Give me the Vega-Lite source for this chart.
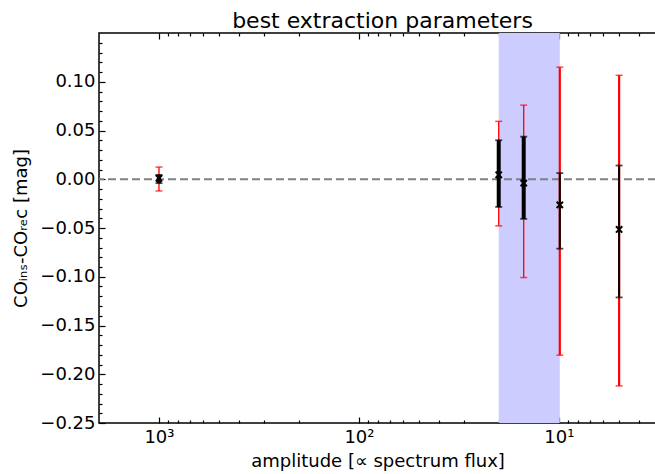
{
  "$schema": "https://vega.github.io/schema/vega-lite/v6.json",
  "width": 557,
  "height": 390,
  "autosize": "none",
  "padding": {"left": 99, "top": 33, "right": 0, "bottom": 51},
  "background": "white",
  "config": {
    "view": {"stroke": "black", "strokeWidth": 1.5},
    "font": "DejaVu Sans",
    "axis": {
      "grid": false,
      "domain": false,
      "tickColor": "black",
      "tickWidth": 1.2,
      "labelColor": "black",
      "labelFont": "DejaVu Sans",
      "labelFontSize": 18,
      "labelFlush": false,
      "labelOverlap": false,
      "titleFont": "DejaVu Sans",
      "titleFontSize": 18,
      "titleFontWeight": "normal",
      "titleColor": "black"
    }
  },
  "title": {
    "text": "best extraction parameters",
    "font": "DejaVu Sans",
    "fontSize": 22,
    "fontWeight": "normal",
    "color": "black",
    "anchor": "middle",
    "offset": -1,
    "dx": 5
  },
  "resolve": {
    "axis": {"x": "independent", "y": "independent"},
    "scale": {"strokeWidth": "independent"}
  },
  "datasets": {
    "band": [{"lo": 20, "hi": 9.9}],
    "zero": [{"level": 0}],
    "runs": [
      {"amp": 1000, "diff": 0.001, "blo": -0.004, "bhi": 0.0045, "rlo": -0.012, "rhi": 0.0125, "run": "a"},
      {"amp": 20, "diff": 0.0046, "blo": -0.0284, "bhi": 0.040, "rlo": -0.0478, "rhi": 0.0594, "run": "a"},
      {"amp": 15, "diff": -0.004, "blo": -0.0406, "bhi": 0.0437, "rlo": -0.1008, "rhi": 0.076, "run": "a"},
      {"amp": 9.9, "diff": -0.0263, "blo": -0.0712, "bhi": 0.0063, "rlo": -0.1804, "rhi": 0.115, "run": "b"},
      {"amp": 5, "diff": -0.0515, "blo": -0.1212, "bhi": 0.0141, "rlo": -0.212, "rhi": 0.1066, "run": "b"}
    ]
  },
  "layer": [
    {
      "data": {"name": "band"},
      "mark": {"type": "rect", "color": "#ccccff"},
      "encoding": {
        "x": {
          "field": "lo",
          "type": "quantitative",
          "scale": {"type": "log", "domain": [3.27, 1995], "reverse": true, "nice": false},
          "axis": {
            "orient": "bottom",
            "title": "amplitude [∝ spectrum flux]",
            "values": [10, 100, 1000],
            "labelExpr": "datum.value == 1000 ? '10³' : datum.value == 100 ? '10²' : '10¹'",
            "offset": -6,
            "tickSize": 6,
            "labelPadding": 5,
            "titlePadding": 6
          }
        },
        "x2": {"field": "hi"}
      }
    },
    {
      "data": {"name": "zero"},
      "mark": {"type": "rule", "color": "#808080", "strokeWidth": 2, "strokeDash": [8, 4]},
      "encoding": {
        "y": {
          "field": "level",
          "type": "quantitative",
          "scale": {"domain": [-0.25, 0.15], "nice": false, "zero": false},
          "axis": {
            "orient": "left",
            "title": "COᵢₙₛ-COᵣₑc [mag]",
            "values": [-0.25, -0.2, -0.15, -0.1, -0.05, 0, 0.05, 0.1],
            "format": ".2f",
            "offset": -6,
            "tickSize": 6,
            "labelPadding": 4,
            "titlePadding": 9
          }
        }
      }
    },
    {
      "data": {"name": "runs"},
      "mark": {"type": "rule", "color": "red"},
      "encoding": {
        "x": {
          "field": "amp",
          "type": "quantitative",
          "axis": {
            "orient": "top",
            "title": null,
            "labels": false,
            "values": [10, 100, 1000],
            "offset": -6,
            "tickSize": 6
          }
        },
        "y": {
          "field": "rlo",
          "type": "quantitative",
          "axis": {
            "orient": "left",
            "title": null,
            "labels": false,
            "values": [-0.24, -0.23, -0.22, -0.21, -0.19, -0.18, -0.17, -0.16, -0.14, -0.13, -0.12, -0.11, -0.09, -0.08, -0.07, -0.06, -0.04, -0.03, -0.02, -0.01, 0.01, 0.02, 0.03, 0.04, 0.06, 0.07, 0.08, 0.09, 0.11, 0.12, 0.13, 0.14],
            "offset": -3,
            "tickSize": 3
          }
        },
        "y2": {"field": "rhi"},
        "strokeWidth": {"field": "run", "type": "ordinal", "scale": {"domain": ["a", "b"], "range": [1.3, 2.2]}, "legend": null}
      }
    },
    {
      "data": {"name": "runs"},
      "mark": {"type": "tick", "orient": "horizontal", "color": "red", "size": 7, "thickness": 1.5},
      "encoding": {
        "x": {
          "field": "amp",
          "type": "quantitative",
          "axis": {
            "orient": "bottom",
            "title": null,
            "labels": false,
            "values": [4, 5, 6, 7, 8, 9, 20, 30, 40, 50, 60, 70, 80, 90, 200, 300, 400, 500, 600, 700, 800, 900],
            "offset": -3,
            "tickSize": 3
          }
        },
        "y": {"field": "rlo", "type": "quantitative", "axis": null}
      }
    },
    {
      "data": {"name": "runs"},
      "mark": {"type": "tick", "orient": "horizontal", "color": "red", "size": 7, "thickness": 1.5},
      "encoding": {
        "x": {
          "field": "amp",
          "type": "quantitative",
          "axis": {
            "orient": "top",
            "title": null,
            "labels": false,
            "values": [4, 5, 6, 7, 8, 9, 20, 30, 40, 50, 60, 70, 80, 90, 200, 300, 400, 500, 600, 700, 800, 900],
            "offset": -3,
            "tickSize": 3
          }
        },
        "y": {"field": "rhi", "type": "quantitative", "axis": null}
      }
    },
    {
      "data": {"name": "runs"},
      "mark": {"type": "rule", "color": "black"},
      "encoding": {
        "x": {"field": "amp", "type": "quantitative", "axis": null},
        "y": {"field": "blo", "type": "quantitative", "axis": null},
        "y2": {"field": "bhi"},
        "strokeWidth": {"field": "run", "type": "ordinal", "scale": {"domain": ["a", "b"], "range": [4, 2]}, "legend": null}
      }
    },
    {
      "data": {"name": "runs"},
      "mark": {"type": "tick", "orient": "horizontal", "color": "black", "size": 7, "thickness": 1.8},
      "encoding": {
        "x": {"field": "amp", "type": "quantitative", "axis": null},
        "y": {"field": "blo", "type": "quantitative", "axis": null}
      }
    },
    {
      "data": {"name": "runs"},
      "mark": {"type": "tick", "orient": "horizontal", "color": "black", "size": 7, "thickness": 1.8},
      "encoding": {
        "x": {"field": "amp", "type": "quantitative", "axis": null},
        "y": {"field": "bhi", "type": "quantitative", "axis": null}
      }
    },
    {
      "data": {"name": "runs"},
      "mark": {"type": "point", "shape": "M-1,-1L1,1M-1,1L1,-1", "filled": false, "color": "black", "strokeWidth": 2, "size": 40, "opacity": 1},
      "encoding": {
        "x": {"field": "amp", "type": "quantitative", "axis": null},
        "y": {"field": "diff", "type": "quantitative", "axis": null}
      }
    }
  ]
}
